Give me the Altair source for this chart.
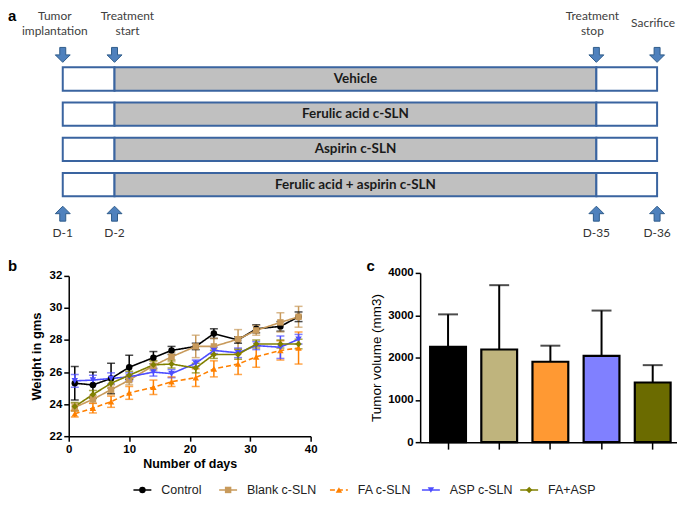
import altair as alt
import pandas as pd

# ---------------- data: panel a (study timeline) ----------------
groups = ["Vehicle", "Ferulic acid c-SLN", "Aspirin c-SLN", "Ferulic acid + aspirin c-SLN"]
event_days = [1, 2, 35, 36]
event_top = ["Tumor\nimplantation", "Treatment\nstart", "Treatment\nstop", "Sacrifice"]
event_bottom = ["D-1", "D-2", "D-35", "D-36"]
phase_names = ["pre", "treatment", "post"]
phase_start = [1, 2, 35]
phase_end = [2, 35, 36]

# ---------------- data: panel b (body weight) ----------------
days = [1, 4, 7, 10, 14, 17, 21, 24, 28, 31, 35, 38]
series = ["Control", "Blank c-SLN", "FA c-SLN", "ASP c-SLN", "FA+ASP"]
control_mean = [25.3, 25.2, 25.6, 26.3, 26.9, 27.35, 27.6, 28.4, 28.0, 28.7, 28.85, 29.45]
control_err = [1.05, 0.8, 0.95, 0.75, 0.38, 0.25, 0.2, 0.3, 0.2, 0.25, 0.3, 0.3]
blank_mean = [23.8, 24.3, 24.9, 25.5, 26.4, 26.95, 27.6, 27.6, 28.05, 28.6, 29.1, 29.45]
blank_err = [0.25, 0.25, 0.3, 0.3, 0.3, 0.3, 0.7, 0.5, 0.6, 0.3, 0.6, 0.65]
fa_mean = [23.4, 23.75, 24.15, 24.7, 25.05, 25.4, 25.65, 26.2, 26.5, 26.95, 27.35, 27.5]
fa_err = [0.2, 0.3, 0.35, 0.4, 0.45, 0.3, 0.55, 0.5, 0.65, 0.65, 0.6, 1.0]
asp_mean = [25.45, 25.5, 25.6, 25.7, 26.0, 25.9, 26.55, 27.35, 27.2, 27.65, 27.55, 28.05]
asp_err = [0.4, 0.3, 0.35, 0.25, 0.25, 0.25, 0.2, 0.2, 0.3, 0.25, 0.7, 0.3]
faasp_mean = [23.85, 24.6, 25.3, 25.8, 26.45, 26.5, 26.25, 27.1, 27.1, 27.75, 27.75, 27.75]
faasp_err = [0.25, 0.25, 0.3, 0.25, 0.25, 0.25, 0.3, 0.25, 0.3, 0.25, 0.25, 0.3]

# ---------------- data: panel c (tumour volume) ----------------
tumor_mean = [2250, 2190, 1900, 2040, 1410]
tumor_err = [770, 1520, 380, 1070, 410]

# ---------------- styles ----------------
W, H = 672, 490
line_colors = ["#000000", "#C89A5B", "#FF8000", "#4D4DFF", "#808000"]
bar_colors = ["#000000", "#BFB47D", "#FF9933", "#8080FF", "#6B6B00"]
shapes = ["circle", "square", "triangle-up", "triangle-down", "diamond"]
dashes = [[1, 0], [1, 0], [5, 3], [1, 0], [1, 0]]
box_stroke = "#3A64A0"
arrow_fill = "#4F81BD"
arrow_stroke = "#2E5C8A"
down_arrow = "M-0.4,-1L0.4,-1L0.4,0L1,0L0,1L-1,0L-0.4,0Z"
up_arrow = "M-0.4,1L0.4,1L0.4,0L1,0L0,-1L-1,0L-0.4,0Z"
top_label_dx = [-8, 13, -4, -4]
top_label_dy = [0, 0, 0, 7]
FONT = "Liberation Sans"
DIAG_FONT = "Lato"

# ---------------- tables ----------------
rows_df = pd.DataFrame(
    [{"group": g, "phase": p, "start": s, "end": e}
     for g in groups for p, s, e in zip(phase_names, phase_start, phase_end)]
)
events_df = pd.DataFrame({"day": event_days, "top": event_top, "bottom": event_bottom})

means = [control_mean, blank_mean, fa_mean, asp_mean, faasp_mean]
errs = [control_err, blank_err, fa_err, asp_err, faasp_err]
weight_df = pd.DataFrame(
    [{"series": s, "day": d, "mean": m, "err": e}
     for s, ms, es in zip(series, means, errs)
     for d, m, e in zip(days, ms, es)]
)
tumor_df = pd.DataFrame({"group": series, "mean": tumor_mean, "err": tumor_err})
legend_df = pd.DataFrame({"series": series, "order": list(range(len(series)))})

# ---------------- panel a ----------------
xa = alt.Scale(domain=event_days, range=[55, 107, 591, 652], zero=False, nice=False)
ya = alt.Scale(domain=groups, range=[58.5, 188], paddingInner=0.338, paddingOuter=0)

boxes = alt.Chart(rows_df).mark_rect(stroke=box_stroke, strokeWidth=2).encode(
    x=alt.X("start:Q", scale=xa, axis=None),
    x2="end:Q",
    y=alt.Y("group:N", scale=ya, sort=groups, axis=None),
    fill=alt.Fill("phase:N", scale=alt.Scale(domain=phase_names,
                                              range=["#FFFFFF", "#C0C0C0", "#FFFFFF"]), legend=None),
)
box_text = alt.Chart(rows_df).transform_filter(alt.datum.phase == "treatment").transform_calculate(
    mid="(datum.start + datum.end) / 2"
).mark_text(font=DIAG_FONT, fontWeight="bold", fontSize=13.5, color="#1A1A1A").encode(
    x=alt.X("mid:Q", scale=xa, axis=None),
    y=alt.Y("group:N", scale=ya, sort=groups, axis=None),
    text="group:N",
)
down_arrows = alt.Chart(events_df).mark_point(
    shape=down_arrow, filled=True, fill=arrow_fill, stroke=arrow_stroke, strokeWidth=1,
    size=225, opacity=1
).encode(x=alt.X("day:Q", scale=xa, axis=None), y=alt.value(46))
up_arrows = alt.Chart(events_df).mark_point(
    shape=up_arrow, filled=True, fill=arrow_fill, stroke=arrow_stroke, strokeWidth=1,
    size=225, opacity=1
).encode(x=alt.X("day:Q", scale=xa, axis=None), y=alt.value(205.5))
bottom_text = alt.Chart(events_df).mark_text(font=DIAG_FONT, fontSize=12, color="#333333").encode(
    x=alt.X("day:Q", scale=xa, axis=None), y=alt.value(225), text="bottom:N"
)
top_texts = [
    alt.Chart(events_df).transform_filter(alt.datum.day == d).mark_text(
        font=DIAG_FONT, fontSize=12, color="#404040", lineBreak="\n", lineHeight=15,
        baseline="middle", dx=dx, dy=dy
    ).encode(x=alt.X("day:Q", scale=xa, axis=None), y=alt.value(7), text="top:N")
    for d, dx, dy in zip(event_days, top_label_dx, top_label_dy)
]
panel_a = alt.layer(boxes, box_text, down_arrows, up_arrows, bottom_text, *top_texts)

# ---------------- panel b ----------------
xb = alt.Scale(domain=[0, 40], range=[61, 304], zero=False, nice=False)
yb = alt.Scale(domain=[22, 32], range=[429, 268], zero=False, nice=False)
color_b = alt.Scale(domain=series, range=line_colors)
shape_b = alt.Scale(domain=series, range=shapes)
dash_b = alt.Scale(domain=series, range=dashes)
axis_bx = alt.Axis(orient="bottom", offset=-61, values=[0, 10, 20, 30, 40], title="Number of days",
                   titleFontWeight="bold", titleFontSize=12.5, labelFontWeight="bold",
                   labelFontSize=11.5, tickSize=5, labelPadding=2, titlePadding=3, labelFlush=False)
axis_by = alt.Axis(orient="left", offset=-61, values=[22, 24, 26, 28, 30, 32], title="Weight in gms",
                   titleFontWeight="bold", titleFontSize=13, labelFontWeight="bold",
                   labelFontSize=11.5, tickSize=5, labelPadding=2, titlePadding=6, labelFlush=False)

base_b = alt.Chart(weight_df).transform_calculate(lo="datum.mean - datum.err", hi="datum.mean + datum.err")
bx = alt.X("day:Q", scale=xb, axis=axis_bx)
col_b = alt.Color("series:N", scale=color_b, legend=None)
err_rule = base_b.mark_rule(strokeWidth=1.5).encode(
    x=bx, y=alt.Y("lo:Q", scale=yb, axis=axis_by), y2="hi:Q", color=col_b)
err_lo = base_b.mark_tick(orient="horizontal", size=8, thickness=1.5).encode(
    x=bx, y=alt.Y("lo:Q", scale=yb, axis=axis_by), color=col_b)
err_hi = base_b.mark_tick(orient="horizontal", size=8, thickness=1.5).encode(
    x=bx, y=alt.Y("hi:Q", scale=yb, axis=axis_by), color=col_b)
lines_b = base_b.mark_line(strokeWidth=1.6).encode(
    x=bx, y=alt.Y("mean:Q", scale=yb, axis=axis_by), color=col_b,
    strokeDash=alt.StrokeDash("series:N", scale=dash_b, legend=None))
points_b = base_b.mark_point(filled=True, size=42, opacity=1).encode(
    x=bx, y=alt.Y("mean:Q", scale=yb, axis=axis_by), color=col_b,
    shape=alt.Shape("series:N", scale=shape_b, legend=None))
panel_b = alt.layer(err_rule, err_lo, err_hi, lines_b, points_b)

# ---------------- panel c ----------------
xc = alt.Scale(domain=series, range=[414, 672], paddingInner=0.3, paddingOuter=0.16, align=0.61)
yc = alt.Scale(domain=[0, 4000], range=[435, 265], nice=False)
axis_cx = alt.Axis(orient="bottom", offset=-55, labels=False, tickSize=7, title="")
axis_cy = alt.Axis(orient="left", offset=-414, values=[0, 1000, 2000, 3000, 4000], format="d",
                   title="Tumor volume (mm3)", titleFontWeight="normal", titleFontSize=13.5,
                   labelFontWeight="bold", labelFontSize=11.5, tickSize=5, labelPadding=2,
                   titlePadding=4, labelFlush=False)
base_c = alt.Chart(tumor_df).transform_calculate(top="datum.mean + datum.err")
cx = alt.X("group:N", scale=xc, sort=series, axis=axis_cx)
bars = base_c.mark_bar(stroke="#000000", strokeWidth=2.2).encode(
    x=cx, y=alt.Y("mean:Q", scale=yc, axis=axis_cy),
    fill=alt.Fill("group:N", scale=alt.Scale(domain=series, range=bar_colors), legend=None))
c_rule = base_c.mark_rule(strokeWidth=2, color="#000000").encode(
    x=cx, y=alt.Y("mean:Q", scale=yc, axis=axis_cy), y2="top:Q")
c_cap = base_c.mark_tick(orient="horizontal", size=20, thickness=2, color="#000000").encode(
    x=cx, y=alt.Y("top:Q", scale=yc, axis=axis_cy))
panel_c = alt.layer(c_rule, c_cap, bars)

# ---------------- legend (drawn from the series list) ----------------
xl = alt.Scale(domain=[0, 500], range=[126, 626], zero=False, nice=False)
base_l = alt.Chart(legend_df).transform_calculate(
    w="length(datum.series) * 6.3 + 42"
).transform_window(
    cum="sum(w)", sort=[alt.SortField("order")], frame=[None, 0]
).transform_calculate(
    x0="datum.cum - datum.w", x1="datum.cum - datum.w + 18",
    xm="datum.cum - datum.w + 9", xt="datum.cum - datum.w + 28"
)
leg_line = base_l.mark_rule(strokeWidth=1.6).encode(
    x=alt.X("x0:Q", scale=xl, axis=None), x2="x1:Q", y=alt.value(483),
    color=alt.Color("series:N", scale=color_b, legend=None),
    strokeDash=alt.StrokeDash("series:N", scale=dash_b, legend=None))
leg_pt = base_l.mark_point(filled=True, size=42, opacity=1).encode(
    x=alt.X("xm:Q", scale=xl, axis=None), y=alt.value(483),
    color=alt.Color("series:N", scale=color_b, legend=None),
    shape=alt.Shape("series:N", scale=shape_b, legend=None))
leg_txt = base_l.mark_text(align="left", baseline="middle", font=FONT, fontSize=12.5, color="#222222").encode(
    x=alt.X("xt:Q", scale=xl, axis=None), y=alt.value(483), text="series:N")
legend = alt.layer(leg_line, leg_pt, leg_txt)

# ---------------- panel letters ----------------
letter_df = pd.DataFrame({"letter": ["a", "b", "c"]})
letters = [
    alt.Chart(letter_df).transform_filter(alt.datum.letter == l).mark_text(
        font=FONT, fontWeight="bold", fontSize=15, align="left", baseline="middle", color="#000000"
    ).encode(x=alt.value(px), y=alt.value(py), text="letter:N")
    for l, px, py in [("a", 0, 7), ("b", 0, 258.5), ("c", 360, 258.5)]
]

chart = alt.layer(panel_a, panel_b, panel_c, legend, *letters).resolve_scale(
    x="independent", y="independent", color="independent", fill="independent",
    shape="independent", strokeDash="independent"
).properties(
    width=W, height=H, padding=0, autosize=alt.AutoSizeParams(type="none"), background="white"
).configure_view(strokeWidth=0).configure_axis(
    domainColor="#000000", domainWidth=1.5, tickColor="#000000", tickWidth=1.5,
    labelColor="#000000", titleColor="#000000", labelFont=FONT, titleFont=FONT, grid=False
)

chart.save("out.html", embed_options={"renderer": "svg", "actions": False})
